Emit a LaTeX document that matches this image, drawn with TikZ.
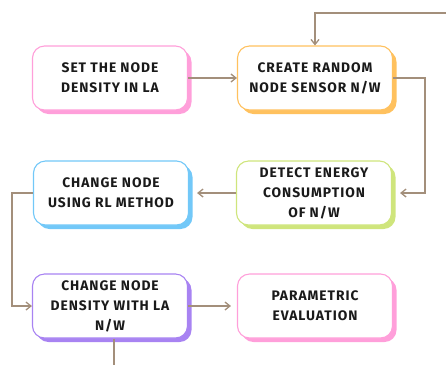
\documentclass[tikz,border=0pt]{standalone}
\usepackage{fontspec}
\setmainfont{Fira Sans}[LetterSpace=7]
\usetikzlibrary{shadows,arrows.meta}
\definecolor{pinkc}{HTML}{FF9FDA}
\definecolor{orangec}{HTML}{FFC15E}
\definecolor{bluec}{HTML}{72C8F8}
\definecolor{greenc}{HTML}{CFE57C}
\definecolor{purplec}{HTML}{A883F2}
\definecolor{linkc}{HTML}{A38F7B}
\definecolor{textc}{HTML}{1A1A1A}
\tikzset{
  stepbox/.style={draw=#1, line width=1.1pt, fill=white, rounded corners=12pt,
    minimum width=155pt, minimum height=64pt, align=center, inner sep=0pt,
    text=textc, font=\fontsize{13.8}{20}\selectfont\bfseries,
    drop shadow={shadow xshift=4pt, shadow yshift=-4pt, fill=#1, opacity=1}},
  link/.style={draw=linkc, line width=1.3pt},
  arr/.style={link, -{Straight Barb[length=5pt,width=8pt]}}
}
\begin{document}
\begin{tikzpicture}[x=1pt,y=-1pt]
\useasboundingbox (0,0) rectangle (446,365);
\node[stepbox=pinkc]   (b1) at (110,78)  {SET THE NODE\\DENSITY IN LA};
\node[stepbox=orangec] (b2) at (315,78)  {CREATE RANDOM\\NODE SENSOR N/W};
\node[stepbox=bluec]   (b3) at (111,193) {CHANGE NODE\\USING RL METHOD};
\node[stepbox=greenc]  (b4) at (314,193) {DETECT ENERGY\\CONSUMPTION\\OF N/W};
\node[stepbox=purplec] (b5) at (110,306) {CHANGE NODE\\DENSITY WITH LA\\N/W};
\node[stepbox=pinkc]   (b6) at (315,306) {PARAMETRIC\\EVALUATION};
\coordinate (in) at (446,13);
\coordinate (out) at (114,365);
\draw[arr] (b1.east) -- (b2.west);
\draw[arr] (in) -| (b2.north);
\draw[arr] (b2.east) -- ++(32,0) |- ([xshift=8pt]b4.east);
\draw[arr] (b4.west) -- ([xshift=8pt]b3.east);
\draw[arr] (b3.west) -- ++(-21,0) |- (b5.west);
\draw[arr] (b5.east) -- ([xshift=-6pt]b6.west);
\draw[link] (b5.south -| out) -- (out);
\end{tikzpicture}
\end{document}
